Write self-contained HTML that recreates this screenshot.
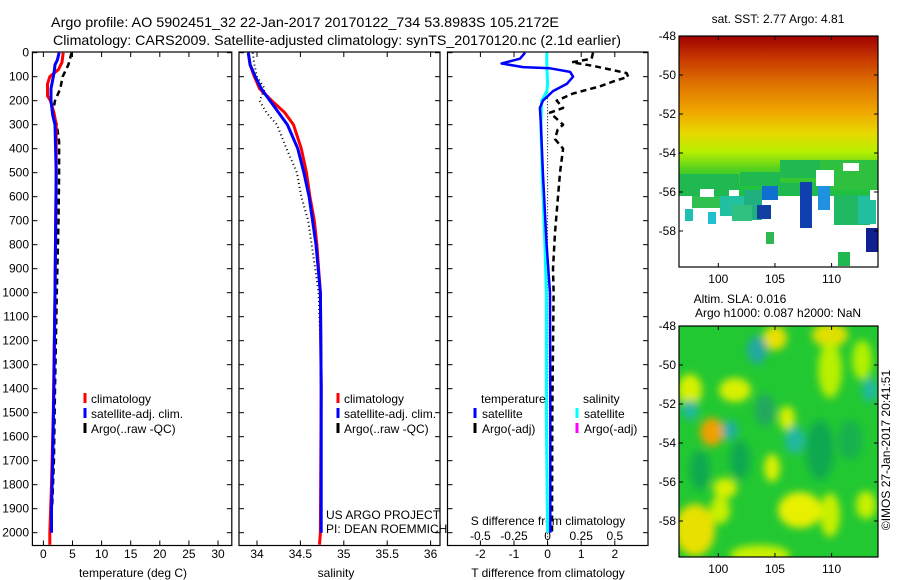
<!DOCTYPE html>
<html><head><meta charset="utf-8">
<style>
html,body{margin:0;padding:0;background:#fff;}
svg{display:block;font-family:"Liberation Sans",sans-serif;}
text{fill:#000;}
</style></head>
<body>
<svg id="fig" width="900" height="580" viewBox="0 0 900 580" xmlns="http://www.w3.org/2000/svg">
<defs>
<linearGradient id="sstg" x1="0" y1="0" x2="0" y2="1">
<stop offset="0" stop-color="#a00000"/><stop offset="0.1" stop-color="#c83a00"/>
<stop offset="0.22" stop-color="#e07800"/><stop offset="0.33" stop-color="#f0a800"/>
<stop offset="0.42" stop-color="#e8d800"/><stop offset="0.5" stop-color="#b8f000"/>
<stop offset="0.58" stop-color="#50d020"/><stop offset="0.66" stop-color="#20c040"/>
<stop offset="1" stop-color="#20b850"/>
</linearGradient>
<filter id="blur" x="-50%" y="-50%" width="200%" height="200%"><feGaussianBlur stdDeviation="4"/></filter>
<clipPath id="m1clip"><rect x="679" y="36" width="199" height="231"/></clipPath>
<clipPath id="m2clip"><rect x="679" y="326" width="199" height="231"/></clipPath>
</defs>
<text x="51" y="27" font-size="14" textLength="508" lengthAdjust="spacingAndGlyphs">Argo profile: AO 5902451_32 22-Jan-2017 20170122_734 53.8983S 105.2172E</text>
<text x="53" y="45" font-size="14" textLength="568" lengthAdjust="spacingAndGlyphs">Climatology: CARS2009. Satellite-adjusted climatology: synTS_20170120.nc (2.1d earlier)</text>
<g id="plots"></g>
</svg>
<script>
// ---------- data ----------
const depthTicks = [0,100,200,300,400,500,600,700,800,900,1000,1100,1200,1300,1400,1500,1600,1700,1800,1900,2000];
const tempTicks = [0,5,10,15,20,25,30];
const salTicks = [34,34.5,35,35.5,36];
const salTickLabels = ["34","34.5","35","35.5","36"];
const tdiffTicks = [-2,-1,0,1,2];
const sdiffTicks = [-0.5,-0.25,0,0.25,0.5];
const sdiffTickLabels = ["-0.5","-0.25","0","0.25","0.5"];

const climTDepth = [0,40,70,90,100,130,180,200,250,300,500,1000,1500,1800,2000,2050];
const climTVal   = [3.4,3.2,2.6,1.6,1.1,0.7,0.7,1.2,1.8,2.2,2.2,2.0,1.7,1.4,1.1,1.1];
const satTDepth  = [0,30,50,70,100,150,200,260,300,500,1000,1400,1700,1900,2000];
const satTVal    = [2.7,2.4,2.0,1.9,1.7,1.3,1.3,1.6,2.0,2.2,2.0,1.8,1.6,1.4,1.4];
const argoTDepth = [0,50,100,150,200,250,300,370,500,700,1000,1400,1700,1900];
const argoTVal   = [4.85,4.3,3.3,2.9,2.0,1.6,2.3,2.7,2.7,2.6,2.3,2.0,1.8,1.5];

const climSDepth = [0,50,100,150,200,250,300,400,500,600,700,800,900,1000,1400,2000,2050];
const climSVal   = [33.9,33.92,33.97,34.03,34.17,34.32,34.42,34.51,34.57,34.61,34.66,34.69,34.71,34.73,34.74,34.73,34.72];
const satSDepth  = [0,50,100,150,200,250,300,400,500,600,800,1000,1400,2000];
const satSVal    = [33.9,33.92,33.98,34.05,34.15,34.25,34.35,34.47,34.54,34.6,34.68,34.73,34.74,34.74];
const argoSDepth = [0,50,100,150,200,250,300,400,500,600,700,800,900,1000,1300];
const argoSVal   = [33.95,33.97,34.0,34.09,34.03,34.11,34.23,34.34,34.46,34.51,34.59,34.63,34.67,34.71,34.74];

const satDTDepth = [0,25,45,60,65,80,100,130,160,200,230,300,500,800,1000,1500,2000];
const satDTVal   = [-0.67,-0.82,-1.37,-0.73,0.07,0.67,0.76,0.57,0.16,-0.14,-0.23,-0.2,-0.14,-0.03,0.07,0.08,0.08];
const satDSDepth = [0,60,130,160,200,300,500,800,1000,1500,2000];
const satDSVal   = [-0.007,-0.005,0.0,-0.005,-0.044,-0.05,-0.04,-0.02,-0.01,-0.01,0.0];
const argoDTDepth= [0,25,40,55,70,85,100,120,140,170,200,230,250,300,320,360,400,500,600,750,900,1000,1500,2000];
const argoDTVal  = [1.35,1.31,0.72,1.36,1.86,2.35,2.4,1.95,1.56,0.76,0.27,0.46,0.07,0.46,0.3,0.22,0.46,0.37,0.31,0.22,0.16,0.18,0.14,0.13];

const lonTicks = [100,105,110];
const latTicks = [-48,-50,-52,-54,-56,-58];

// ---------- helpers ----------
const NS = "http://www.w3.org/2000/svg";
const root = document.getElementById('plots');
function mk(tag, attrs, parent){
  const e = document.createElementNS(NS, tag);
  for (const k in attrs) e.setAttribute(k, attrs[k]);
  (parent||root).appendChild(e);
  return e;
}
const Y0 = 52.7, YS = 0.24; // depth scale
const yD = d => Y0 + d*YS;
const xT = t => 43.4 + t*5.82;
const xS = s => 257 + (s-34)*86.8;
const xDT = v => 547.6 + v*33.6;
const xDS = v => 547.6 + v*134.4;
const PT = 52, PB = 545.5;

function panel(name, x0, x1){
  const r = mk('rect',{x:x0,y:PT,width:x1-x0,height:PB-PT,fill:'none',stroke:'#000','stroke-width':1.2});
  
  
  depthTicks.forEach(d=>{
    const y=yD(d);
    const t1 = mk('line',{x1:x0,x2:x0+5,y1:y,y2:y,stroke:'#000'});
    
    
    const t2 = mk('line',{x1:x1-5,x2:x1,y1:y,y2:y,stroke:'#000'});
    
    
  });
}
function xticks(name, vals, labels, fx, top, bottom, ly){
  vals.forEach((v,i)=>{
    const x=fx(v);
    if(bottom){const l=mk('line',{x1:x,x2:x,y1:PB,y2:PB-5,stroke:'#000'});
      
      }
    if(top){const l=mk('line',{x1:x,x2:x,y1:PT,y2:PT+5,stroke:'#000'});
      
      }
    if(ly){const t=mk('text',{x:x,y:ly,'font-size':12,'text-anchor':'middle'});
      t.textContent = labels ? labels[i] : String(v);
      
      }
  });
}
function line(name, ds, vs, fx, color, w, dash){
  const pts = ds.map((d,i)=>fx(vs[i]).toFixed(1)+','+yD(d).toFixed(1)).join(' ');
  const a={points:pts,fill:'none',stroke:color,'stroke-width':w,'stroke-linejoin':'round'};
  if(dash) a['stroke-dasharray']=dash;
  const p = mk('polyline',a);
  
  
}
function txt(name, x, y, s, size, anchor){
  const t=mk('text',{x:x,y:y,'font-size':size||12,'text-anchor':anchor||'start'});
  t.textContent=s;
  
  
  return t;
}
function legbar(name, x, y, color){
  const l=mk('line',{x1:x,x2:x,y1:y-10,y2:y,stroke:color,'stroke-width':3});
  
  
}

// ---------- panel 1: temperature ----------
panel('temperature-panel', 32.4, 231.8);
depthTicks.forEach(d=>{ txt('depth-tick-label', 29, yD(d)+4, String(d), 12, 'end'); });
xticks('temperature-axis', tempTicks, null, xT, true, true, 558);
txt('temperature-axis-title', 133, 577, 'temperature (deg C)', 12, 'middle');
line('argo-temperature-line', argoTDepth, argoTVal, xT, '#000', 2.5, '6,4');
line('climatology-temperature-line', climTDepth, climTVal, xT, '#ff0000', 3);
line('satellite-temperature-line', satTDepth, satTVal, xT, '#0000ff', 3);
legbar('legend-climatology-swatch', 85, 403, '#ff0000'); txt('legend-climatology', 91, 403, 'climatology');
legbar('legend-satellite-swatch', 85, 418, '#0000ff'); txt('legend-satellite', 91, 418, 'satellite-adj. clim.');
legbar('legend-argo-swatch', 85, 433, '#000'); txt('legend-argo', 91, 433, 'Argo(..raw -QC)');

// ---------- panel 2: salinity ----------
panel('salinity-panel', 239, 440);
xticks('salinity-axis', salTicks, salTickLabels, xS, true, true, 558);
txt('salinity-axis-title', 336, 577, 'salinity', 12, 'middle');
line('argo-salinity-line', argoSDepth, argoSVal, xS, '#000', 2, '1,3');
line('climatology-salinity-line', climSDepth, climSVal, xS, '#ff0000', 3);
line('satellite-salinity-line', satSDepth, satSVal, xS, '#0000ff', 3);
legbar('legend2-climatology-swatch', 338, 403, '#ff0000'); txt('legend2-climatology', 344, 403, 'climatology');
legbar('legend2-satellite-swatch', 338, 418, '#0000ff'); txt('legend2-satellite', 344, 418, 'satellite-adj. clim.');
legbar('legend2-argo-swatch', 338, 433, '#000'); txt('legend2-argo', 344, 433, 'Argo(..raw -QC)');
txt('credit-project', 326, 519, 'US ARGO PROJECT');
txt('credit-pi', 326, 533, 'PI: DEAN ROEMMICH');

// ---------- panel 3: differences ----------
panel('difference-panel', 447.5, 648);
xticks('t-diff-axis', tdiffTicks, null, xDT, false, true, 558);
xticks('s-diff-axis', sdiffTicks, sdiffTickLabels, xDS, true, false, 540);
txt('s-diff-axis-title', 548, 525, 'S difference from climatology', 12, 'middle');
txt('t-diff-axis-title', 548, 577, 'T difference from climatology', 12, 'middle');
(function(){const z=mk('line',{x1:xDT(0),x2:xDT(0),y1:yD(140),y2:PB,stroke:'#000','stroke-width':1,'stroke-dasharray':'1,2'});

})();
line('argo-t-diff-line', argoDTDepth, argoDTVal, xDT, '#000', 2.5, '6,4');
line('satellite-s-diff-line', satDSDepth, satDSVal, xDS, '#00ffff', 3);
line('satellite-t-diff-line', satDTDepth, satDTVal, xDT, '#0000ff', 2.5);
txt('legend3-temperature-head', 481, 403, 'temperature');
txt('legend3-salinity-head', 583, 403, 'salinity');
legbar('legend3-t-sat-swatch', 475, 418, '#0000ff'); txt('legend3-t-sat', 482, 418, 'satellite');
legbar('legend3-t-argo-swatch', 475, 433, '#000'); txt('legend3-t-argo', 482, 433, 'Argo(-adj)');
legbar('legend3-s-sat-swatch', 577, 418, '#00ffff'); txt('legend3-s-sat', 584, 418, 'satellite');
legbar('legend3-s-argo-swatch', 577, 433, '#ff00ff'); txt('legend3-s-argo', 584, 433, 'Argo(-adj)');

// ---------- maps ----------
const MX0=679, MX1=878;
const xL = lon => 718.3 + (lon-100)*11.33;
function mapAxes(name, top, bottom, lat0y){
  const yl = lat => lat0y + (-48-lat)*19.5;
  const r=mk('rect',{x:MX0,y:top,width:MX1-MX0,height:bottom-top,fill:'none',stroke:'#000','stroke-width':1.2});
  
  
  lonTicks.forEach(l=>{
    const x=xL(l);
    const a=mk('line',{x1:x,x2:x,y1:bottom,y2:bottom-4,stroke:'#000'});
    
    
    const b=mk('line',{x1:x,x2:x,y1:top,y2:top+4,stroke:'#000'});
    
    
    txt(name+'-lon-label', x, bottom+16, String(l), 12, 'middle');
  });
  latTicks.forEach(l=>{
    const y=yl(l);
    const a=mk('line',{x1:MX0,x2:MX0+4,y1:y,y2:y,stroke:'#000'});
    
    
    const b=mk('line',{x1:MX1-4,x2:MX1,y1:y,y2:y,stroke:'#000'});
    
    
    txt(name+'-lat-label', 676, y+4, String(l), 12, 'end');
  });
}
// SST map
const g1 = mk('g',{'clip-path':'url(#m1clip)'});


mk('rect',{x:679,y:36,width:199,height:231,fill:'url(#sstg)'},g1);
mk('rect',{x:679,y:196,width:199,height:71,fill:'#fff'},g1);
const patches = [[679,174,60,22,'#20b850'],[740,172,40,14,'#20b850'],[780,160,40,18,'#20b850'],[820,160,58,30,'#30c040'],
 [692,196,30,12,'#30c050'],[720,196,30,20,'#20c0a0'],[744,190,18,30,'#20b080'],[762,186,16,14,'#1070d0'],
 [757,205,14,14,'#1040a0'],[780,183,40,12,'#20b850'],[800,182,12,46,'#1040b0'],[818,186,12,24,'#2090e0'],
 [834,195,36,30,'#20b860'],[858,196,18,28,'#20c0a0'],[708,212,8,12,'#20c0d0'],[766,232,8,12,'#30b850'],
 [838,252,12,14,'#20b850'],[866,228,12,24,'#102090'],[685,209,8,12,'#20c0b0'],[732,205,20,16,'#30c080']];
patches.forEach(p=>{const r=mk('rect',{x:p[0],y:p[1],width:p[2],height:p[3],fill:p[4]},g1);
 
 });
[[700,189,14,8],[729,190,10,6],[816,170,18,16],[843,163,16,8],[870,190,8,10]].forEach(p=>{
 const r=mk('rect',{x:p[0],y:p[1],width:p[2],height:p[3],fill:'#fff'},g1);
 
 });
mapAxes('sst-map', 36, 267, 36);
txt('sst-map-title', 778, 23, 'sat. SST: 2.77 Argo: 4.81', 12, 'middle');

// SLA map
const g2 = mk('g',{'clip-path':'url(#m2clip)'});


mk('rect',{x:679,y:326,width:199,height:231,fill:'#22c832'},g2);
const gb = mk('g',{filter:'url(#blur)'},g2);
const blobs = [[690,390,12,16,'#d8f000'],[712,432,12,14,'#f0a000'],[735,390,16,12,'#d8f000'],[775,338,12,12,'#e8e000'],
 [830,335,18,12,'#e0e000'],[830,370,12,28,'#b8f000'],[862,360,10,20,'#b0f000'],[787,418,8,12,'#d8f000'],
 [772,468,8,14,'#d8f000'],[725,488,12,10,'#d8f000'],[800,510,22,18,'#e8f000'],[830,515,10,22,'#c8f000'],
 [695,530,20,26,'#e8e000'],[720,510,10,14,'#c8f000'],[866,505,10,14,'#c8f000'],[760,555,30,10,'#c8f000'],
 [690,410,8,10,'#20b8a0'],[757,350,10,14,'#20a8a0'],[730,430,8,10,'#20b0a0'],[795,440,10,14,'#20b8a0'],
 [765,410,10,16,'#20a860'],[820,450,14,30,'#10a850'],[870,390,8,12,'#20b8a0'],[740,460,10,20,'#10a850'],
 [850,440,12,20,'#18b050'],[700,470,10,20,'#10a850']];
blobs.forEach(b=>{const e=mk('ellipse',{cx:b[0],cy:b[1],rx:b[2],ry:b[3],fill:b[4]},gb);
 
 });
mapAxes('sla-map', 326, 557, 326);
txt('sla-map-title', 740, 303, 'Altim. SLA: 0.016', 12, 'middle');
txt('sla-map-subtitle', 778, 317, 'Argo h1000: 0.087 h2000: NaN', 12, 'middle');
const cr = txt('imos-timestamp', 0, 0, '©IMOS 27-Jan-2017 20:41:51', 12, 'middle');
cr.setAttribute('transform','translate(890,450) rotate(-90)');
</script>
</body></html>
